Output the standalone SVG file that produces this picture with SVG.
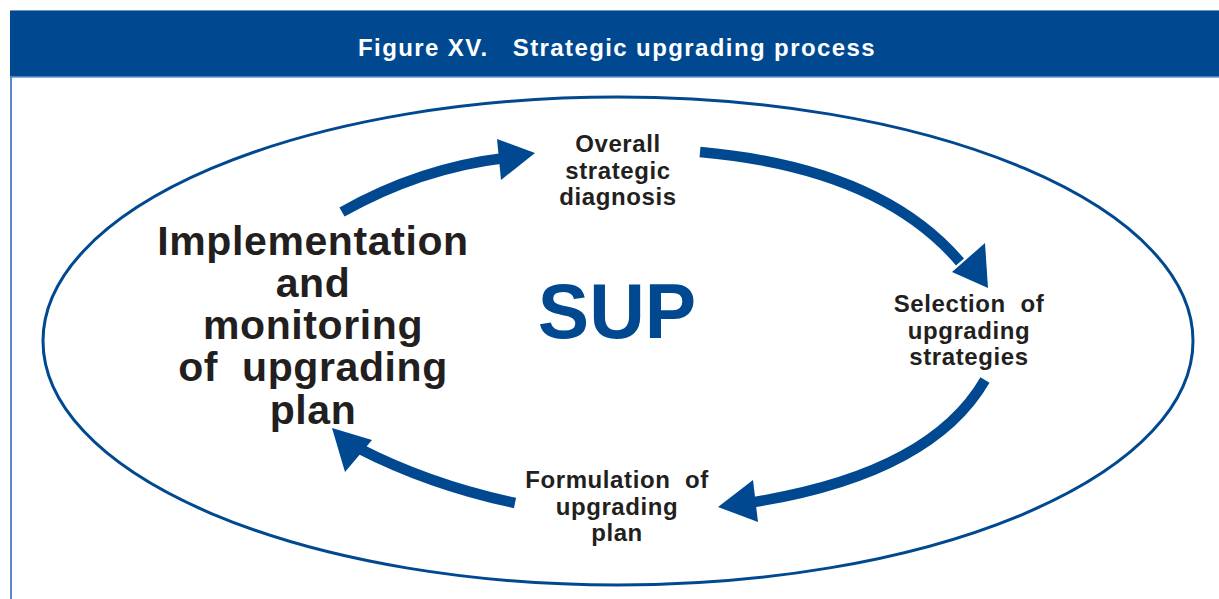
<svg xmlns="http://www.w3.org/2000/svg" width="1219" height="599" viewBox="0 0 1219 599">
<style>
.lbl{font-family:"Liberation Sans",Arial,sans-serif;font-weight:bold;fill:#231f20;text-anchor:middle}
.s{font-size:24px;letter-spacing:0.6px}
.b{font-size:41px;letter-spacing:0.6px}
.arr{fill:none;stroke:#004990;stroke-width:10.5}
.head{fill:#004990}
</style>
<rect x="0" y="0" width="1219" height="599" fill="#fff"/>
<g id="header">
<rect x="10" y="10" width="1209" height="67" fill="#004990"/>
<line x1="10" y1="10.5" x2="1219" y2="10.5" stroke="#6a94c8" stroke-width="1"/>
<line x1="10" y1="77" x2="1219" y2="77" stroke="#6a94c8" stroke-width="1.5"/>
<text x="617" y="56" font-family="Liberation Sans,Arial,sans-serif" font-weight="bold" font-size="24" letter-spacing="1.4" fill="#fff" text-anchor="middle" xml:space="preserve">Figure XV.   Strategic upgrading process</text>
</g>
<line x1="11" y1="77" x2="11" y2="599" stroke="#5b8ac0" stroke-width="2"/>
<g id="cycle">
<ellipse cx="618" cy="341" rx="575" ry="244" fill="none" stroke="#004990" stroke-width="3"/>
</g>
<g id="connectors">
<path class="arr" d="M342,212 Q420,168 505,158"/>
<polygon class="head" points="535,153 497,139 501,180"/>
<path class="arr" d="M700,152 Q880,168 960,262"/>
<polygon class="head" points="988,288 985,243 952,272"/>
<path class="arr" d="M985,380 Q930,475 748,503"/>
<polygon class="head" points="718,507 753,480 758,522"/>
<path class="arr" d="M515,503 Q430,485 358,448"/>
<polygon class="head" points="332,428 372,440 345,472"/>
</g>
<g id="overall">
<text class="lbl s"><tspan x="618" y="152">Overall</tspan><tspan x="618" y="179">strategic</tspan><tspan x="618" y="205">diagnosis</tspan></text>
</g>
<g id="selection">
<text class="lbl s"><tspan x="969" y="312" xml:space="preserve">Selection  of</tspan><tspan x="969" y="339">upgrading</tspan><tspan x="969" y="365">strategies</tspan></text>
</g>
<g id="formulation">
<text class="lbl s"><tspan x="617" y="488" xml:space="preserve">Formulation  of</tspan><tspan x="617" y="515">upgrading</tspan><tspan x="617" y="541">plan</tspan></text>
</g>
<g id="implementation">
<text class="lbl b"><tspan x="313" y="255">Implementation</tspan><tspan x="313" y="297">and</tspan><tspan x="313" y="339">monitoring</tspan><tspan x="313" y="381" xml:space="preserve">of  upgrading</tspan><tspan x="313" y="424">plan</tspan></text>
</g>
<g id="sup">
<text x="617" y="338" font-family="Liberation Sans,Arial,sans-serif" font-weight="bold" font-size="77" fill="#004990" text-anchor="middle">SUP</text>
</g>
</svg>
